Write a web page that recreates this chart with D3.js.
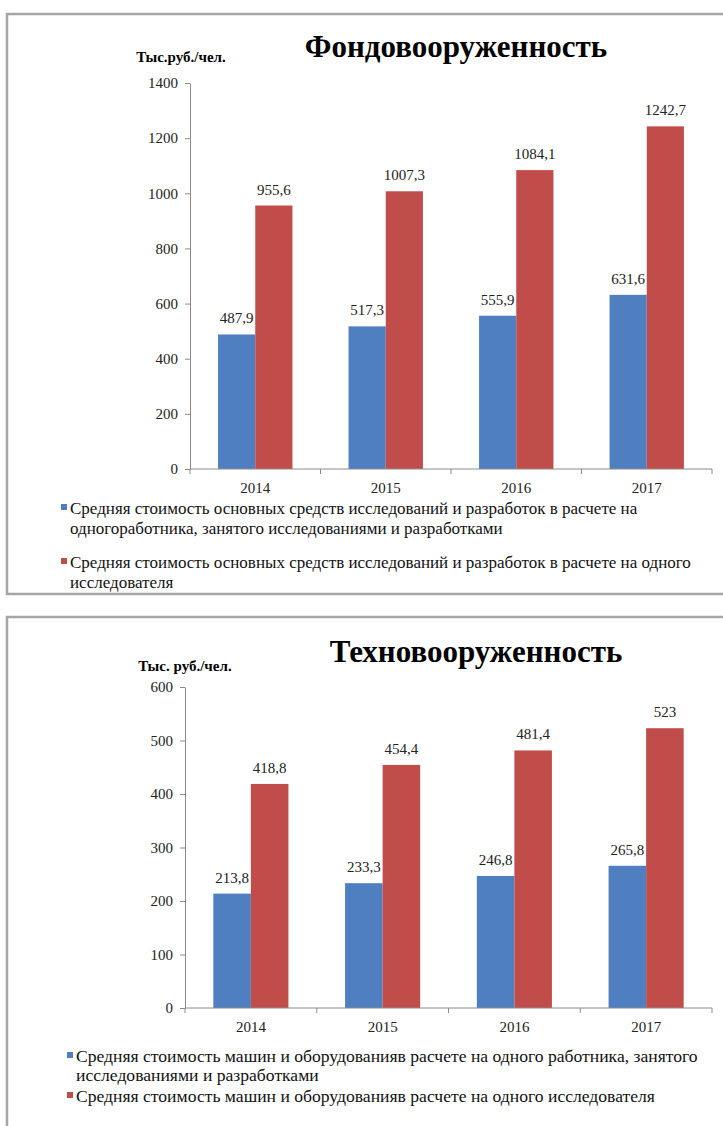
<!DOCTYPE html>
<html>
<head>
<meta charset="utf-8">
<script src="https://cdn.jsdelivr.net/npm/d3@7"></script>
<style>
  html, body { margin: 0; padding: 0; background: #fff; }
  svg { display: block; }
</style>
</head>
<body>
<svg id="page" width="723" height="1126"></svg>
<script>
// Years on the category axis
const years = ["2014", "2015", "2016", "2017"];

// Фондовооруженность, тыс. руб./чел.
const fondPerWorker = [487.9, 517.3, 555.9, 631.6];
const fondPerResearcher = [955.6, 1007.3, 1084.1, 1242.7];
const fondTicks = [0, 200, 400, 600, 800, 1000, 1200, 1400];
const fondLegend = [
  ["Средняя стоимость основных средств исследований и разработок в расчете на",
   "одногоработника, занятого исследованиями и разработками"],
  ["Средняя стоимость основных средств исследований и разработок в расчете на одного",
   "исследователя"]
];

// Техновооруженность, тыс. руб./чел.
const techPerWorker = [213.8, 233.3, 246.8, 265.8];
const techPerResearcher = [418.8, 454.4, 481.4, 523];
const techTicks = [0, 100, 200, 300, 400, 500, 600];
const techLegend = [
  ["Средняя стоимость машин и оборудованияв расчете на одного работника, занятого",
   "исследованиями и разработками"],
  ["Средняя стоимость машин и оборудованияв расчете на одного исследователя"]
];

const seriesColors = ["#4f7fc0", "#c14d4a"];
const FONT = "'Liberation Serif', 'Times New Roman', serif";
const fmt = v => String(v).replace(".", ",");

const svg = d3.select("#page");

function drawPanel(cfg) {
  const g = svg.append("g").attr("font-family", FONT);

  // Panel frame (the right edge runs off the page)
  g.append("path")
    .attr("d", `M${cfg.frame.right},${cfg.frame.top} H${cfg.frame.left} V${cfg.frame.bottom}` +
               (cfg.frame.closed ? ` H${cfg.frame.right}` : ""))
    .attr("fill", "none")
    .attr("stroke", "#a6a6a6")
    .attr("stroke-width", 2.5);

  // Title and unit label
  g.append("text")
    .attr("x", cfg.titleX).attr("y", cfg.titleY)
    .attr("text-anchor", "middle")
    .attr("font-size", 31).attr("font-weight", "bold")
    .attr("fill", "#000")
    .text(cfg.title);
  g.append("text")
    .attr("x", cfg.unitX).attr("y", cfg.unitY)
    .attr("text-anchor", "middle")
    .attr("font-size", 15).attr("font-weight", "bold")
    .attr("fill", "#000")
    .text(cfg.unit);

  const x = d3.scaleBand().domain(years).range([cfg.left, cfg.right]);
  const y = d3.scaleLinear().domain([0, d3.max(cfg.ticks)]).range([cfg.zero, cfg.top]);
  const groupW = x.bandwidth() * 0.57;
  const inner = d3.scaleBand().domain([0, 1])
    .range([(x.bandwidth() - groupW) / 2, (x.bandwidth() + groupW) / 2]);

  // Y axis
  const yAxis = g.append("g")
    .attr("transform", `translate(${cfg.left},0)`)
    .call(d3.axisLeft(y).tickValues(cfg.ticks).tickFormat(d3.format("d"))
      .tickSize(5).tickSizeOuter(0).tickPadding(7));
  yAxis.attr("font-family", FONT);
  yAxis.select(".domain").attr("stroke", "#8c8c8c");
  yAxis.selectAll(".tick line").attr("stroke", "#8c8c8c");
  yAxis.selectAll(".tick text")
    .attr("font-size", 15).attr("fill", "#222");

  // Bars with value labels
  const series = [cfg.worker, cfg.researcher];
  series.forEach((vals, si) => {
    const rows = vals.map((v, i) => ({ year: years[i], v }));
    g.append("g").selectAll("rect")
      .data(rows)
      .join("rect")
      .attr("x", d => x(d.year) + inner(si))
      .attr("y", d => y(d.v))
      .attr("width", inner.bandwidth())
      .attr("height", d => y(0) - y(d.v))
      .attr("fill", seriesColors[si]);

    g.append("g").selectAll("text")
      .data(rows)
      .join("text")
      .attr("x", d => x(d.year) + inner(si) + inner.bandwidth() / 2)
      .attr("y", d => y(d.v) - 11)
      .attr("text-anchor", "middle")
      .attr("font-size", 15)
      .attr("fill", "#222")
      .text(d => fmt(d.v));
  });

  // X axis: labels at category centres, ticks between categories
  const xAxis = g.append("g")
    .attr("transform", `translate(0,${cfg.zero})`)
    .call(d3.axisBottom(x).tickSize(0).tickPadding(13));
  xAxis.attr("font-family", FONT);
  xAxis.select(".domain").remove();
  xAxis.selectAll(".tick text")
    .attr("font-size", 15).attr("fill", "#222");
  g.append("line")
    .attr("x1", cfg.left).attr("x2", cfg.right)
    .attr("y1", cfg.zero).attr("y2", cfg.zero)
    .attr("stroke", "#8c8c8c");
  g.append("g").selectAll("line")
    .data(years.map(d => x(d)).concat([cfg.right]))
    .join("line")
    .attr("x1", d => d).attr("x2", d => d)
    .attr("y1", cfg.zero).attr("y2", cfg.zero + 5)
    .attr("stroke", "#8c8c8c");

  // Legend
  let ly = cfg.legendY;
  cfg.legend.forEach((lines, si) => {
    g.append("rect")
      .attr("x", cfg.legendX - 9).attr("y", ly - 10)
      .attr("width", 6).attr("height", 6)
      .attr("fill", seriesColors[si]);
    lines.forEach((line, li) => {
      g.append("text")
        .attr("x", cfg.legendX).attr("y", ly + li * cfg.lineGap)
        .attr("font-size", cfg.legendSize)
        .attr("fill", "#111")
        .text(line);
    });
    ly += lines.length * cfg.lineGap + cfg.entryGap;
  });
}

drawPanel({
  frame: { left: 7, top: 14, bottom: 594, right: 740, closed: true },
  title: "Фондовооруженность", titleX: 456, titleY: 57,
  unit: "Тыс.руб./чел.", unitX: 181, unitY: 62,
  left: 190, right: 712, zero: 469, top: 83,
  ticks: fondTicks, worker: fondPerWorker, researcher: fondPerResearcher,
  legend: fondLegend, legendX: 70, legendY: 514, lineGap: 20, entryGap: 14, legendSize: 17
});

drawPanel({
  frame: { left: 7, top: 617, bottom: 1140, right: 740, closed: false },
  title: "Техновооруженность", titleX: 476, titleY: 662,
  unit: "Тыс. руб./чел.", unitX: 185, unitY: 671,
  left: 185, right: 712, zero: 1008, top: 687,
  ticks: techTicks, worker: techPerWorker, researcher: techPerResearcher,
  legend: techLegend, legendX: 76, legendY: 1062, lineGap: 19, entryGap: 2, legendSize: 17.6
});
</script>
</body>
</html>
